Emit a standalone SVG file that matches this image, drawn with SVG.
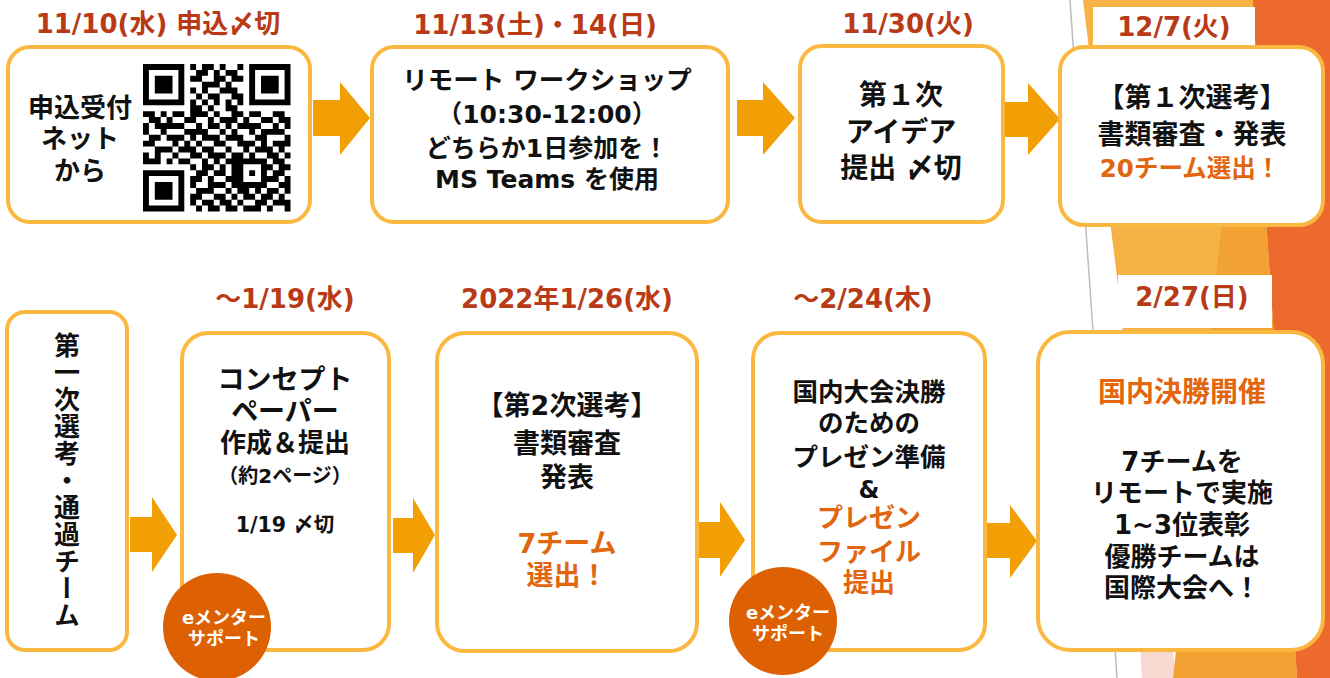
<svg xmlns="http://www.w3.org/2000/svg" width="1330" height="678" viewBox="0 0 1330 678">
<style>
text{font-family:"DejaVu Sans","Noto Sans CJK JP",sans-serif;font-weight:bold;text-anchor:middle;dominant-baseline:central;fill:#111}
.date{fill:#B83A16;font-size:26px}
.box{fill:#fff;stroke:#FBB840;stroke-width:4}
.arrow{fill:#F29E05}
.org{fill:#E2660E}
.circ{fill:#DD6102}
.wt{fill:#fff;font-size:18px}
.vt{font-family:"Noto Sans CJK JP",sans-serif}
</style>
<rect width="1330" height="678" fill="#fff"/>
<g id="background">
<polygon points="1121,322 1150,322 1175,678 1142,678" fill="#F8D9CF"/>
<polygon points="1083,0 1255,0 1240,335 1124,335" fill="#F6B244"/>
<polygon points="1235,100 1258,100 1297,678 1173,678" fill="#F2A232"/>
<polygon points="1253,0 1330,0 1330,678 1297,678 1258,100" fill="#EC6A2C"/>
<line x1="1070" y1="0" x2="1117" y2="678" stroke="#BDBDBD" stroke-width="1.5"/>
<rect x="1093" y="7" width="162" height="38" fill="#fff"/>
<rect x="1118" y="275" width="154" height="53" fill="#fff"/>
</g>
<g id="connectors">
<polygon class="arrow" points="313,100 340,100 340,82 370,118 340,155 340,136 313,136"/>
<polygon class="arrow" points="737,100 763,100 763,82 795,118 763,155 763,136 737,136"/>
<polygon class="arrow" points="1003,102 1028,102 1028,83 1060,119 1028,155 1028,137 1003,137"/>
<polygon class="arrow" points="130,517 152,517 152,497 177,535 152,572 152,552 130,552"/>
<polygon class="arrow" points="393,518 413,518 413,498 435,535 413,573 413,553 393,553"/>
<polygon class="arrow" points="698,522 720,522 720,502 745,540 720,577 720,558 698,558"/>
<polygon class="arrow" points="987,523 1010,523 1010,505 1037,541 1010,578 1010,558 987,558"/>
</g>
<g id="node-apply">
<text class="date" x="158" y="24">11/10(水) 申込〆切</text>
<rect class="box" x="8" y="47" width="302" height="175" rx="22"/>
<text x="80" y="108" font-size="26">申込受付</text>
<text x="80" y="139" font-size="26">ネット</text>
<text x="80" y="171" font-size="26">から</text>
<g transform="translate(143,64) scale(5.9)">
<path fill="none" stroke="#000" stroke-width="1" d="M0 .5h7M8 .5h1M10 .5h2M13 .5h1M16 .5h1M18 .5h7M0 1.5h1M6 1.5h1M9 1.5h2M12 1.5h1M14 1.5h2M18 1.5h1M24 1.5h1M0 2.5h1M2 2.5h3M6 2.5h1M8 2.5h2M12 2.5h2M15 2.5h2M18 2.5h1M20 2.5h3M24 2.5h1M0 3.5h1M2 3.5h3M6 3.5h1M10 3.5h3M14 3.5h1M18 3.5h1M20 3.5h3M24 3.5h1M0 4.5h1M2 4.5h3M6 4.5h1M8 4.5h1M10 4.5h1M13 4.5h3M18 4.5h1M20 4.5h3M24 4.5h1M0 5.5h1M6 5.5h1M9 5.5h1M11 5.5h2M15 5.5h2M18 5.5h1M24 5.5h1M0 6.5h7M8 6.5h1M10 6.5h1M12 6.5h1M14 6.5h1M16 6.5h1M18 6.5h7M8 7.5h2M11 7.5h1M14 7.5h2M0 8.5h2M3 8.5h1M5 8.5h2M8 8.5h3M12 8.5h1M15 8.5h2M18 8.5h2M22 8.5h2M1 9.5h2M4 9.5h1M7 9.5h2M11 9.5h1M13 9.5h3M17 9.5h1M20 9.5h2M23 9.5h2M0 10.5h1M2 10.5h5M9 10.5h1M11 10.5h2M14 10.5h1M16 10.5h4M22 10.5h1M24 10.5h1M0 11.5h1M3 11.5h1M7 11.5h4M13 11.5h1M15 11.5h1M18 11.5h1M20 11.5h4M1 12.5h2M4 12.5h3M8 12.5h1M10 12.5h3M14 12.5h3M19 12.5h2M24 12.5h1M0 13.5h2M5 13.5h1M7 13.5h1M9 13.5h1M12 13.5h2M16 13.5h3M20 13.5h1M22 13.5h3M2 14.5h3M6 14.5h3M10 14.5h2M14 14.5h1M17 14.5h1M19 14.5h3M23 14.5h1M0 15.5h1M2 15.5h1M5 15.5h1M8 15.5h2M11 15.5h3M15 15.5h2M18 15.5h1M21 15.5h2M24 15.5h1M0 16.5h3M4 16.5h1M6 16.5h2M10 16.5h1M12 16.5h1M14 16.5h7M22 16.5h2M8 17.5h1M10 17.5h2M13 17.5h1M15 17.5h2M20 17.5h2M23 17.5h2M0 18.5h7M9 18.5h2M12 18.5h2M15 18.5h2M18 18.5h1M20 18.5h1M22 18.5h2M0 19.5h1M6 19.5h1M8 19.5h2M11 19.5h1M14 19.5h3M20 19.5h3M24 19.5h1M0 20.5h1M2 20.5h3M6 20.5h1M8 20.5h1M11 20.5h3M15 20.5h6M23 20.5h2M0 21.5h1M2 21.5h3M6 21.5h1M9 21.5h3M14 21.5h1M16 21.5h2M19 21.5h1M21 21.5h2M24 21.5h1M0 22.5h1M2 22.5h3M6 22.5h1M8 22.5h2M12 22.5h2M15 22.5h1M17 22.5h2M20 22.5h2M23 22.5h1M0 23.5h1M6 23.5h1M8 23.5h1M10 23.5h2M13 23.5h2M16 23.5h1M19 23.5h2M22 23.5h3M0 24.5h7M9 24.5h1M11 24.5h2M14 24.5h2M17 24.5h3M21 24.5h1M24 24.5h1"/>
</g>
</g>
<g id="node-workshop">
<text class="date" x="535" y="25">11/13(土)・14(日)</text>
<rect class="box" x="372" y="47" width="356" height="175" rx="22"/>
<text x="547" y="80" font-size="25.5">リモート ワークショップ</text>
<text x="547" y="114" font-size="25">（10:30-12:00）</text>
<text x="547" y="148" font-size="25">どちらか1日参加を！</text>
<text x="547" y="179" font-size="25">MS Teams を使用</text>
</g>
<g id="node-idea">
<text class="date" x="908" y="24">11/30(火)</text>
<rect class="box" x="800" y="46" width="203" height="176" rx="22"/>
<text x="901" y="95" font-size="28">第１次</text>
<text x="901" y="132" font-size="28">アイデア</text>
<text x="901" y="168" font-size="28">提出 〆切</text>
</g>
<g id="node-first-selection">
<text class="date" x="1174" y="27">12/7(火)</text>
<rect class="box" x="1060" y="47" width="263" height="178" rx="24"/>
<text x="1192" y="97" font-size="27">【第１次選考】</text>
<text x="1192" y="134" font-size="27">書類審査・発表</text>
<text class="org" x="1190" y="168" font-size="24.5">20チーム選出！</text>
</g>
<g id="node-passed">
<rect class="box" x="7" y="312" width="120" height="338" rx="18"/>
<text class="vt" x="67" y="481" font-size="26" writing-mode="vertical-rl" letter-spacing="1">第一次選考・通過チーム</text>
</g>
<g id="node-concept">
<text class="date" x="285" y="299">～1/19(水)</text>
<rect class="box" x="182" y="333" width="207" height="317" rx="26"/>
<text x="285" y="379" font-size="27">コンセプト</text>
<text x="285" y="411" font-size="27">ペーパー</text>
<text x="285" y="443" font-size="26">作成＆提出</text>
<text x="285" y="476" font-size="20">（約2ページ）</text>
<text x="285" y="525" font-size="20.5">1/19 〆切</text>
<circle class="circ" cx="217" cy="627" r="54"/>
<text class="wt" x="224" y="617">eメンター</text>
<text class="wt" x="224" y="638">サポート</text>
</g>
<g id="node-second-selection">
<text class="date" x="567" y="299">2022年1/26(水)</text>
<rect class="box" x="437" y="333" width="260" height="318" rx="28"/>
<text x="567" y="405" font-size="27">【第2次選考】</text>
<text x="567" y="443" font-size="27">書類審査</text>
<text x="567" y="477" font-size="27">発表</text>
<text class="org" x="567" y="543" font-size="27">7チーム</text>
<text class="org" x="567" y="575" font-size="27">選出！</text>
</g>
<g id="node-presentation">
<text class="date" x="863" y="299">～2/24(木)</text>
<rect class="box" x="753" y="333" width="232" height="317" rx="26"/>
<text x="869" y="392" font-size="25.5">国内大会決勝</text>
<text x="869" y="423" font-size="25.5">のための</text>
<text x="869" y="457" font-size="25.5">プレゼン準備</text>
<text x="869" y="490" font-size="24">&amp;</text>
<text class="org" x="869" y="518" font-size="26">プレゼン</text>
<text class="org" x="869" y="552" font-size="26">ファイル</text>
<text class="org" x="869" y="583" font-size="26">提出</text>
<circle class="circ" cx="783" cy="621" r="54"/>
<text class="wt" x="788" y="612">eメンター</text>
<text class="wt" x="788" y="633">サポート</text>
</g>
<g id="node-final">
<text class="date" x="1192" y="297">2/27(日)</text>
<rect class="box" x="1038" y="332" width="285" height="318" rx="32"/>
<text class="org" x="1182" y="392" font-size="28">国内決勝開催</text>
<text x="1182" y="462" font-size="26">7チームを</text>
<text x="1182" y="493" font-size="26">リモートで実施</text>
<text x="1182" y="525" font-size="26">1~3位表彰</text>
<text x="1182" y="557" font-size="26">優勝チームは</text>
<text x="1182" y="588" font-size="26">国際大会へ！</text>
</g>
</svg>
